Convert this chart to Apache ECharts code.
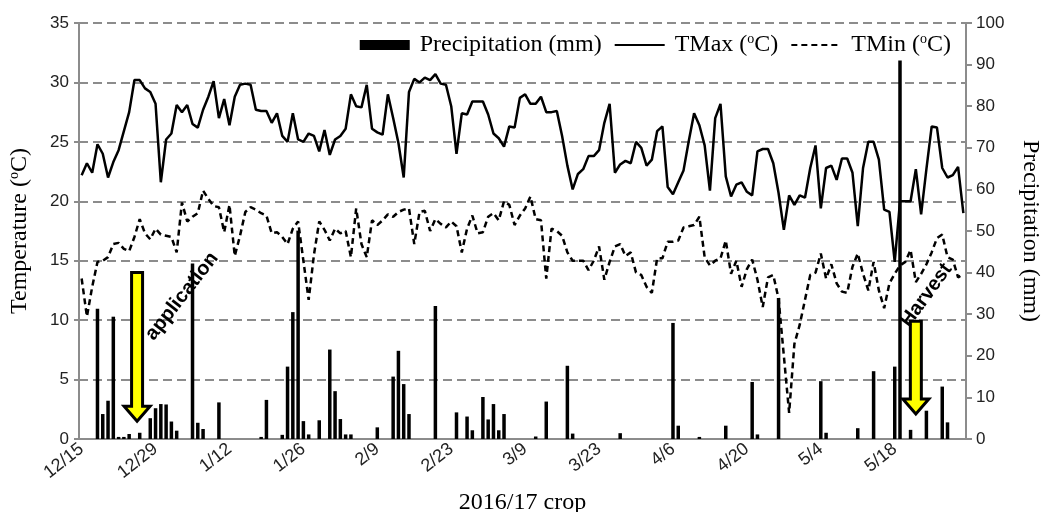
<!DOCTYPE html>
<html>
<head>
<meta charset="utf-8">
<script src="https://cdn.jsdelivr.net/npm/echarts@6/dist/echarts.min.js"></script>
<style>
  html, body { margin: 0; padding: 0; background: #fff; }
  #main { width: 1045px; height: 512px; }
</style>
</head>
<body>
<div id="main"></div>
<script>
// daily categories 12/15/2016 .. 5/31/2017
const dates = [];
for (let d = new Date(2016, 11, 15); d <= new Date(2017, 4, 31); d.setDate(d.getDate() + 1)) {
  dates.push((d.getMonth() + 1) + '/' + d.getDate());
}

const tmax = [
  22.2, 23.2, 22.4, 24.8, 24.0, 22.0, 23.3, 24.3, 25.9, 27.5,
  30.2, 30.2, 29.5, 29.2, 28.2, 21.6, 25.2, 25.7, 28.1, 27.5,
  28.1, 26.5, 26.2, 27.7, 28.8, 30.1, 27.0, 28.6, 26.4, 28.8,
  29.8, 29.9, 29.8, 27.7, 27.6, 27.6, 26.6, 27.4, 25.5, 25.0,
  27.4, 25.2, 25.0, 25.7, 25.5, 24.2, 26.0, 23.9, 25.2, 25.5,
  26.1, 29.0, 28.0, 27.9, 29.8, 26.1, 25.8, 25.6, 29.0, 27.0,
  24.9, 22.0, 29.2, 30.3, 30.0, 30.4, 30.2, 30.7, 29.9, 29.8,
  28.0, 24.0, 27.4, 27.3, 28.4, 28.4, 28.4, 27.3, 25.7, 25.3,
  24.6, 26.3, 26.2, 28.7, 29.0, 28.2, 28.2, 28.8, 27.5, 27.5,
  27.6, 25.5, 23.0, 21.0, 22.3, 22.7, 23.8, 23.8, 24.3, 26.6,
  28.2, 22.4, 23.1, 23.4, 23.2, 25.0, 24.5, 23.0, 23.5, 25.9,
  26.3, 21.2, 20.6, 21.6, 22.6, 25.1, 27.4, 26.4, 24.7, 20.9,
  27.0, 28.2, 22.1, 20.4, 21.4, 21.6, 20.8, 20.5, 24.2, 24.4,
  24.4, 23.2, 20.7, 17.6, 20.5, 19.7, 20.5, 20.3, 22.8, 24.7,
  19.4, 22.8, 23.0, 21.8, 23.6, 23.6, 22.4, 17.9, 22.8, 25.0,
  25.0, 23.5, 19.3, 19.1, 14.9, 20.0, 20.0, 20.0, 22.7, 18.9,
  22.7, 26.3, 26.2, 22.8, 22.0, 22.2, 22.9, 19.0
];

const tmin = [
  13.5, 10.3, 12.8, 14.9, 15.0, 15.3, 16.4, 16.5, 16.0, 15.8,
  17.0, 18.5, 17.3, 16.8, 17.7, 17.2, 17.1, 17.0, 15.7, 19.9,
  18.3, 18.7, 19.0, 20.9, 20.2, 19.6, 19.5, 17.4, 19.7, 15.4,
  17.1, 19.1, 19.5, 19.3, 19.0, 18.8, 17.3, 17.4, 17.0, 16.4,
  17.7, 18.3, 15.0, 11.7, 15.5, 18.3, 17.6, 16.7, 17.7, 17.3,
  17.5, 15.3, 19.4, 16.4, 15.3, 18.4, 18.0, 18.4, 18.9, 18.7,
  19.1, 19.3, 19.4, 16.4, 19.1, 19.2, 17.5, 18.5, 18.1, 17.8,
  18.3, 17.9, 15.7, 17.7, 18.8, 17.3, 17.4, 18.7, 19.0, 18.4,
  20.0, 19.7, 18.0, 18.8, 19.4, 20.4, 18.5, 18.4, 13.5, 17.7,
  17.5, 17.1, 15.7, 15.0, 15.0, 15.0, 14.2, 15.0, 16.2, 13.4,
  14.9, 16.2, 16.4, 15.4, 15.7, 14.0, 13.8, 12.8, 12.3, 15.2,
  15.2, 16.6, 16.6, 16.7, 17.8, 17.9, 18.0, 18.7, 15.3, 14.6,
  15.0, 15.2, 16.7, 13.9, 15.0, 12.8, 14.3, 15.1, 13.4, 11.1,
  13.6, 13.8, 11.8, 7.0, 2.2, 8.0, 9.6, 11.7, 13.8, 14.0,
  15.6, 13.5, 14.7, 13.1, 12.4, 12.3, 14.5, 15.6, 13.9, 12.5,
  14.9, 12.5, 11.0, 13.1, 13.9, 14.6, 14.9, 15.9, 13.2, 13.9,
  14.7, 15.7, 16.9, 17.2, 15.3, 15.1, 13.6, 13.9
];

// rain days only (mm)
const rainDates = [
  '12/18', '12/19', '12/20', '12/21', '12/22', '12/23', '12/24', '12/26', '12/28', '12/29',
  '12/30', '12/31', '1/1', '1/2', '1/5', '1/6', '1/7', '1/10', '1/18', '1/19',
  '1/22', '1/23', '1/24', '1/25', '1/26', '1/27', '1/29', '1/31', '2/1', '2/2',
  '2/3', '2/4', '2/9', '2/12', '2/13', '2/14', '2/15', '2/20', '2/24', '2/26',
  '2/27', '3/1', '3/2', '3/3', '3/4', '3/5', '3/11', '3/13', '3/17', '3/18',
  '3/27', '4/6', '4/7', '4/11', '4/16', '4/21', '4/22', '4/26', '5/4', '5/5',
  '5/11', '5/14', '5/18', '5/19', '5/21', '5/24', '5/27', '5/28'
];
const rainMm = [
  31.3, 6.0, 9.2, 29.4, 0.5, 0.5, 1.2, 1.5, 5.0, 7.4,
  8.4, 8.3, 4.2, 2.0, 42.2, 3.9, 2.4, 8.8, 0.5, 9.4,
  1.0, 17.4, 30.5, 50.1, 4.3, 1.1, 4.5, 21.5, 11.5, 4.8,
  1.1, 1.1, 2.8, 15.0, 21.2, 13.2, 6.0, 32.0, 6.4, 5.4,
  2.1, 10.1, 4.7, 8.4, 2.1, 6.0, 0.6, 9.0, 17.6, 1.3,
  1.4, 27.9, 3.2, 0.5, 3.2, 13.7, 1.1, 33.9, 13.9, 1.5,
  2.6, 16.3, 17.4, 91.0, 2.2, 6.8, 12.6, 4.0
];

const tempTicks = { min: 0, max: 35, interval: 5 };
const rainTicks = { min: 0, max: 100, interval: 10 };

const precip = dates.map(d => {
  const i = rainDates.indexOf(d);
  return i < 0 ? null : rainMm[i];
});

const serif = '"Liberation Serif", "Times New Roman", serif';
const sans = '"Liberation Sans", Arial, sans-serif';
const grey = '#8c8c8c';
const supStyle = { sup: { fontFamily: serif, fontSize: 14, color: '#000', padding: [0, 0, 12, 0] } };

const chart = echarts.init(document.getElementById('main'));

chart.setOption({
  animation: false,
  backgroundColor: '#fff',
  grid: { left: 79, right: 79, top: 23, bottom: 73, outerBoundsMode: 'none', containLabel: false },
  legend: {
    right: 89,
    top: 27,
    itemWidth: 50,
    itemHeight: 10,
    itemGap: 12,
    data: [
      { name: 'Precipitation (mm)', icon: 'rect' },
      { name: 'TMax (oC)', itemStyle: { opacity: 0 } },
      { name: 'TMin (oC)', itemStyle: { opacity: 0 } }
    ],
    formatter: name => name.replace('(oC)', '({sup|o}C)'),
    textStyle: { fontFamily: serif, fontSize: 24, color: '#000', padding: [0, 0, 0, 5], rich: supStyle }
  },
  xAxis: {
    type: 'category',
    data: dates,
    boundaryGap: true,
    name: '2016/17 crop',
    nameLocation: 'middle',
    nameGap: 52,
    nameTextStyle: { fontFamily: serif, fontSize: 24, color: '#000' },
    axisLine: { lineStyle: { color: grey, width: 2 } },
    axisTick: { interval: 13, length: 5, lineStyle: { color: grey, width: 2 } },
    axisLabel: { interval: 13, rotate: 38, fontFamily: sans, fontSize: 18, color: '#222', margin: 8 },
    splitLine: { show: false }
  },
  yAxis: [
    {
      type: 'value',
      min: tempTicks.min, max: tempTicks.max, interval: tempTicks.interval,
      name: 'Temperature ({sup|o}C)',
      nameLocation: 'middle',
      nameRotate: 90,
      nameGap: 46,
      nameTextStyle: { fontFamily: serif, fontSize: 24, color: '#000', rich: supStyle },
      axisLine: { show: true, lineStyle: { color: grey, width: 2 } },
      axisTick: { show: true, length: 5, lineStyle: { color: grey, width: 2 } },
      axisLabel: { fontFamily: sans, fontSize: 17, color: '#222', margin: 10 },
      splitLine: { show: true, lineStyle: { color: grey, width: 2, type: [9, 5] } }
    },
    {
      type: 'value',
      position: 'right',
      min: rainTicks.min, max: rainTicks.max, interval: rainTicks.interval,
      name: 'Precipitation (mm)',
      nameLocation: 'middle',
      nameRotate: -90,
      nameGap: 52,
      nameTextStyle: { fontFamily: serif, fontSize: 24, color: '#000' },
      axisLine: { show: true, lineStyle: { color: grey, width: 2 } },
      axisTick: { show: true, length: 6, lineStyle: { color: grey, width: 2 } },
      axisLabel: { fontFamily: sans, fontSize: 17, color: '#222', margin: 10 },
      splitLine: { show: false }
    }
  ],
  series: [
    {
      name: 'Precipitation (mm)',
      type: 'bar',
      yAxisIndex: 1,
      barWidth: 3.5,
      itemStyle: { color: '#000' },
      data: precip
    },
    {
      name: 'TMax (oC)',
      type: 'line',
      yAxisIndex: 0,
      symbol: 'none',
      itemStyle: { color: '#000' },
      lineStyle: { color: '#000', width: 2.5 },
      data: tmax
    },
    {
      name: 'TMin (oC)',
      type: 'line',
      yAxisIndex: 0,
      symbol: 'none',
      itemStyle: { color: '#000' },
      lineStyle: { color: '#000', width: 2.5, type: [6, 4] },
      data: tmin
    }
  ]
});

// annotations, anchored in data space
function px(cat, val) {
  return chart.convertToPixel({ xAxisIndex: 0, yAxisIndex: 0 }, [cat, val]);
}
function midX(a, b) {
  return (px(a, 0)[0] + px(b, 0)[0]) / 2;
}
function arrow(x, yTop, yTip) {
  const s = 5.5, h = 13, hh = 15;
  return {
    type: 'polygon',
    shape: {
      points: [
        [x - s, yTop], [x + s, yTop], [x + s, yTip - hh], [x + h, yTip - hh],
        [x, yTip], [x - h, yTip - hh], [x - s, yTip - hh]
      ]
    },
    style: { fill: '#ffff00', stroke: '#000', lineWidth: 3 },
    z: 10
  };
}
function note(text, p, deg) {
  return {
    type: 'text',
    x: p[0], y: p[1],
    rotation: deg * Math.PI / 180,
    style: {
      text: text,
      font: 'bold 20px ' + sans,
      fill: '#000',
      align: 'center',
      verticalAlign: 'middle'
    },
    z: 10
  };
}

const appX = midX('12/25', '12/26');
const harX = px('5/22', 0)[0];
chart.setOption({
  graphic: [
    arrow(appX, px('12/26', 14)[1], px('12/26', 1.5)[1]),
    arrow(harX, px('5/22', 9.9)[1], px('5/22', 2.1)[1]),
    note('application', px('1/3', 12), 52),
    note('Harvest', px('5/24', 12.1), 54)
  ]
});
</script>
</body>
</html>
